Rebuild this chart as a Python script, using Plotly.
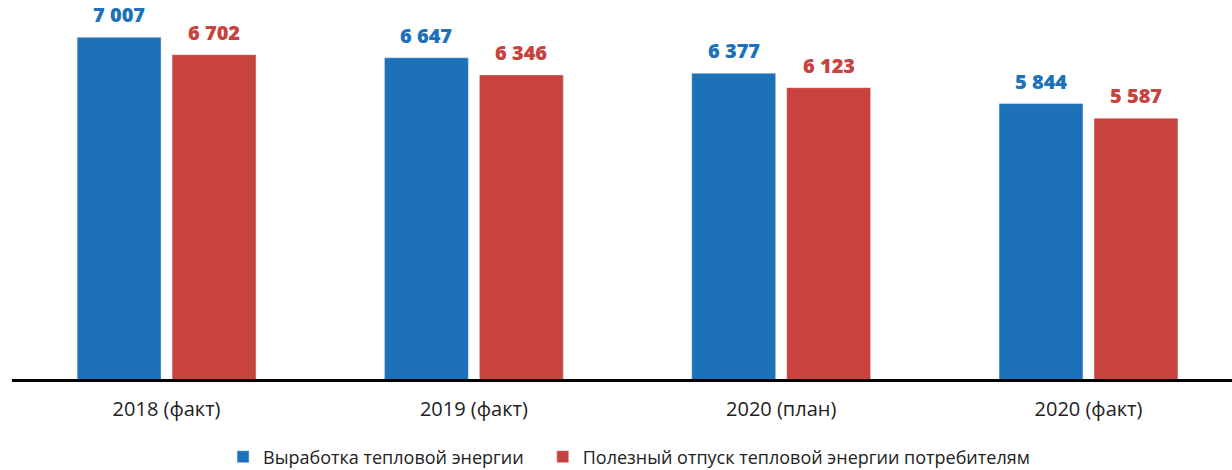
import plotly.graph_objects as go

categories = ["2018 (факт)", "2019 (факт)", "2020 (план)", "2020 (факт)"]
production = [7007, 6647, 6377, 5844]
supply = [6702, 6346, 6123, 5587]
series_names = ["Выработка тепловой энергии", "Полезный отпуск тепловой энергии потребителям"]

BLUE = "#1D71B8"
RED = "#C8433D"
FONT = "Open Sans"


def fmt(v):
    return f"{v:,}".replace(",", " ")


fig = go.Figure()
fig.add_trace(go.Bar(x=categories, y=production, name=series_names[0] + "\u00a0" * 3,
                     marker_color=BLUE, hoverinfo="skip"))
fig.add_trace(go.Bar(x=categories, y=supply, name=series_names[1], marker_color=RED,
                     hoverinfo="skip"))

# value labels above bars
for vals, color, shift in ((production, BLUE, -47.5), (supply, RED, 47.5)):
    for c, v in zip(categories, vals):
        fig.add_annotation(x=c, y=v, xref="x", yref="y", text=fmt(v), showarrow=False,
                           xshift=shift, yshift=7, yanchor="bottom", xanchor="center",
                           font=dict(color=color, size=20, family=FONT, weight=800))

fig.update_layout(
    width=1232, height=470,
    margin=dict(l=12, r=0, t=0, b=91, autoexpand=False),
    plot_bgcolor="white", paper_bgcolor="white",
    barmode="group", bargap=0.382, bargroupgap=0.116,
    font=dict(family=FONT, color="#222222"),
    showlegend=True,
    legend=dict(orientation="h", x=0.173, xanchor="left", y=0.0277, yref="container",
                yanchor="middle",
                font=dict(size=18, color="#222222", family=FONT),
                itemwidth=30, traceorder="normal"),
)
fig.update_xaxes(range=[-0.503, 3.467], showline=True, linecolor="black", linewidth=2.5,
                 ticks="", ticklabelstandoff=10,
                 tickfont=dict(size=20, color="#222222", family=FONT),
                 showgrid=False, zeroline=False, automargin=False)
fig.update_yaxes(range=[1009, 7661], visible=False, showgrid=False, zeroline=False,
                 automargin=False)

fig.write_html("out.html", config={"displayModeBar": False, "staticPlot": True},
               post_script="document.body.style.margin='0px';document.body.style.overflow='hidden';")
